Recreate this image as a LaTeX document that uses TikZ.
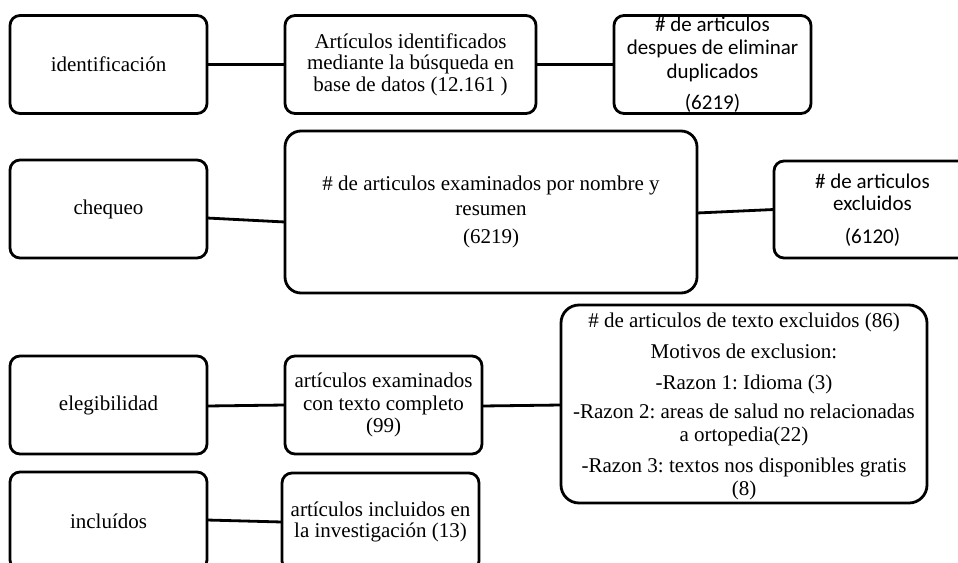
\documentclass[tikz,border=0pt]{standalone}
\usepackage{fontspec}
\setmainfont{Liberation Serif}
\newfontfamily\calibri{Carlito}
\frenchspacing
\begin{document}
\begin{tikzpicture}[x=1pt,y=-1pt,
  box/.style={draw=black, line width=2.8pt, rounded corners=10pt, minimum width=197pt, minimum height=98pt, inner sep=0pt, outer sep=0pt},
  serif/.style={font=\fontsize{21}{#1}\selectfont, align=center, inner sep=0pt},
  sans/.style={font=\calibri\fontsize{21}{#1}\selectfont, align=center, inner sep=0pt},
  link/.style={draw=black, line width=2.8pt}]
\useasboundingbox (0,0) rectangle (958,562);
\clip (0,0) rectangle (958,562);
% row 1
\node[box] (idn) at (108.5,64.5) {};
\node[serif=21.5] (idnt) at (idn.center) {identificación};
\node[box, minimum width=251pt] (b2) at (410.5,64.5) {};
\node[serif=21.5] (b2t) at (b2.center) {Artículos identificados\\mediante la búsqueda en\\base de datos (12.161 )};
\node[box] (b3) at (712.5,64.5) {};
\node[sans=23.5] (b3t) at ([yshift=0pt]b3.center) {\# de articulos\\despues de eliminar\\duplicados\\[8pt](6219)};
\draw[link] (idn.east) -- (b2.west);
\draw[link] (b2.east) -- (b3.west);
% row 2
\node[box] (chk) at (108.5,209) {};
\node[serif=21.5] (chkt) at (chk.center) {chequeo};
\node[box, minimum width=412pt, minimum height=162pt, rounded corners=16pt] (big) at (491,212) {};
\node[serif=25] (bigt) at ([yshift=0.5pt]big.center) {\# de articulos examinados por nombre y\\resumen\\[3pt](6219)};
\node[box, minimum height=97pt] (exc) at (872.5,209.5) {};
\node[sans=22] (exct) at ([yshift=-1pt]exc.center) {\# de articulos\\excluidos\\[11pt](6120)};
\draw[link] ([yshift=-9pt]chk.east) -- ([yshift=-10pt]big.west);
\draw[link] ([yshift=-1pt]big.east) -- (exc.west);
% row 3
\node[box] (el) at (108.5,405) {};
\node[serif=21.5] (elt) at (el.center) {elegibilidad};
\node[box] (a99) at (383.5,405) {};
\node[serif=22.5] (a99t) at (a99.center) {artículos examinados\\con texto completo\\(99)};
\node[box, minimum width=366pt, minimum height=198pt, rounded corners=18pt] (excl) at (744,404) {};
\node[serif=23] (exclt) at ([yshift=-2pt]excl.center) {\# de articulos de texto excluidos (86)\\[8pt]Motivos de exclusion:\\[8pt]-Razon 1: Idioma (3)\\[6pt]-Razon 2: areas de salud no relacionadas\\a ortopedia(22)\\[8pt]-Razon 3: textos nos disponibles gratis\\(8)};
\draw[link] ([yshift=-1pt]el.east) -- (a99.west);
\draw[link] ([yshift=-1pt]a99.east) -- ([yshift=-1pt]excl.west);
% row 4
\node[box] (inc) at (108.5,521) {};
\node[serif=21.5] (inct) at (inc.center) {incluídos};
\node[box] (i13) at (380.5,522) {};
\node[serif=21] (i13t) at (i13.center) {artículos incluidos en\\la investigación (13)};
\draw[link] ([yshift=1pt]inc.east) -- (i13.west);
\end{tikzpicture}
\end{document}
